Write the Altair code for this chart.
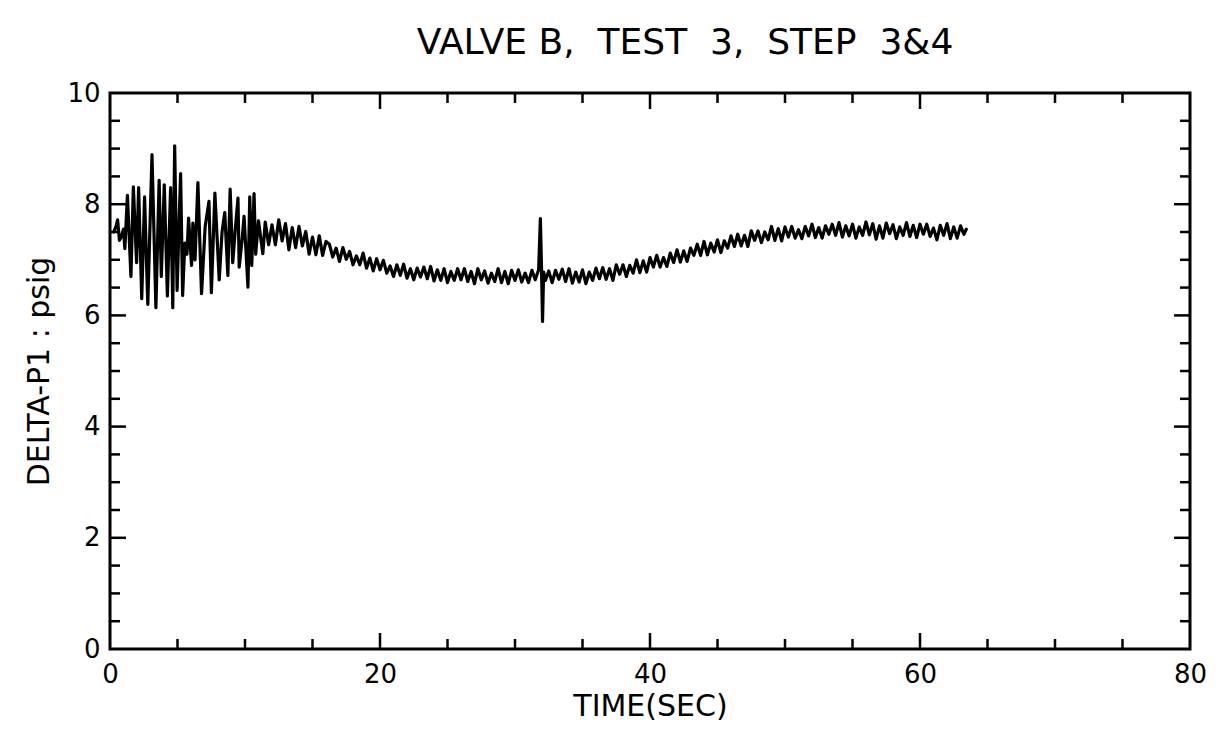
import altair as alt
import pandas as pd

TITLE = "VALVE B,\u00a0 TEST\u00a0 3,\u00a0 STEP\u00a0 3&4"
X_TITLE = "TIME(SEC)"
Y_TITLE = "DELTA-P1 : psig"

x_labels = [0, 20, 40, 60, 80]
y_labels = [0, 2, 4, 6, 8, 10]
x_major_ticks = [20, 40, 60]
x_minor_ticks = [5, 10, 15, 25, 30, 35, 45, 50, 55, 65, 70, 75]
y_major_ticks = [2, 4, 6, 8]
y_minor_ticks = [0.5, 1, 1.5, 2.5, 3, 3.5, 4.5, 5, 5.5, 6.5, 7, 7.5, 8.5, 9, 9.5]

# start-up oscillation burst (time s, delta-P psig)
burst_t = [0.28, 0.46, 0.56, 0.70, 0.83, 1.00, 1.10, 1.29, 1.55, 1.73, 1.97, 2.12,
           2.35, 2.56, 2.80, 3.11, 3.40, 3.64, 3.80, 4.02, 4.25, 4.49, 4.65, 4.79,
           4.97, 5.23, 5.38, 5.54, 5.70, 5.82, 6.04, 6.14, 6.30, 6.51, 6.78, 7.05,
           7.33, 7.51, 7.77, 8.09, 8.30, 8.50, 8.73, 8.90, 9.09, 9.30, 9.48, 9.57,
           9.80, 9.93, 10.22, 10.35, 10.50, 10.67, 10.79, 11.00, 11.32]
burst_v = [7.50, 7.61, 7.72, 7.35, 7.41, 7.55, 7.20, 8.16, 6.70, 8.31, 6.95, 8.30,
           6.30, 8.13, 6.20, 8.89, 6.14, 8.43, 6.70, 8.35, 6.35, 8.30, 6.14, 9.05,
           6.45, 8.55, 6.36, 7.30, 7.10, 7.75, 6.90, 7.66, 7.00, 8.39, 6.39, 7.60,
           8.05, 6.41, 8.20, 6.64, 7.50, 7.85, 6.72, 8.27, 6.95, 7.60, 8.11, 6.87,
           7.40, 7.78, 6.51, 8.13, 6.90, 8.19, 7.10, 7.70, 7.11]

# settling / decay part
decay_t = [11.50, 11.75, 12.00, 12.25, 12.50, 12.75, 13.00, 13.25, 13.50, 13.75,
           14.00, 14.25, 14.50, 14.75, 15.00, 15.25, 15.50, 15.75, 16.00, 16.25,
           16.50, 16.75, 17.00, 17.25, 17.50, 17.75, 18.00, 18.25, 18.50, 18.75,
           19.00, 19.25, 19.50, 19.75, 20.00, 20.25, 20.50, 20.75, 21.00, 21.25,
           21.50, 21.75, 22.00, 22.25, 22.50, 22.75, 23.00, 23.25, 23.50, 23.75,
           24.00, 24.25, 24.50, 24.75, 25.00, 25.25, 25.50, 25.75, 26.00, 26.25,
           26.50, 26.75, 27.00, 27.25, 27.50, 27.75, 28.00, 28.25, 28.50, 28.75,
           29.00, 29.25, 29.50, 29.75, 30.00, 30.25, 30.50, 30.75, 31.00, 31.25,
           31.50, 31.75]
decay_v = [7.68, 7.27, 7.63, 7.27, 7.72, 7.34, 7.65, 7.18, 7.58, 7.22,
           7.60, 7.25, 7.51, 7.10, 7.41, 7.09, 7.43, 7.08, 7.33, 7.28,
           7.05, 7.21, 6.97, 7.22, 7.01, 7.15, 6.91, 7.07, 6.91, 7.12,
           6.85, 7.03, 6.80, 7.02, 6.82, 6.99, 6.76, 6.89, 6.70, 6.91,
           6.72, 6.92, 6.67, 6.84, 6.64, 6.85, 6.69, 6.87, 6.66, 6.88,
           6.62, 6.82, 6.63, 6.84, 6.59, 6.79, 6.63, 6.84, 6.64, 6.84,
           6.61, 6.79, 6.57, 6.84, 6.64, 6.80, 6.58, 6.76, 6.61, 6.84,
           6.59, 6.79, 6.57, 6.81, 6.63, 6.82, 6.60, 6.76, 6.59, 6.81,
           6.64, 6.82]

# valve step transient
spike_t = [31.88, 31.96, 32.04, 32.12]
spike_v = [7.74, 6.90, 5.89, 6.78]

# recovery part
recover_t = [32.25, 32.50, 32.75, 33.00, 33.25, 33.50, 33.75, 34.00, 34.25, 34.50,
             34.75, 35.00, 35.25, 35.50, 35.75, 36.00, 36.25, 36.50, 36.75, 37.00,
             37.25, 37.50, 37.75, 38.00, 38.25, 38.50, 38.75, 39.00, 39.25, 39.50,
             39.75, 40.00, 40.25, 40.50, 40.75, 41.00, 41.25, 41.50, 41.75, 42.00,
             42.25, 42.50, 42.75, 43.00, 43.25, 43.50, 43.75, 44.00, 44.25, 44.50,
             44.75, 45.00, 45.25, 45.50, 45.75, 46.00, 46.25, 46.50, 46.75, 47.00,
             47.25, 47.50, 47.75, 48.00, 48.25, 48.50, 48.75, 49.00, 49.25, 49.50,
             49.75, 50.00, 50.25, 50.50, 50.75, 51.00, 51.25, 51.50, 51.75, 52.00,
             52.25, 52.50, 52.75, 53.00, 53.25, 53.50, 53.75, 54.00, 54.25, 54.50,
             54.75, 55.00, 55.25, 55.50, 55.75, 56.00, 56.25, 56.50, 56.75, 57.00,
             57.25, 57.50, 57.75, 58.00, 58.25, 58.50, 58.75, 59.00, 59.25, 59.50,
             59.75, 60.00, 60.25, 60.50, 60.75, 61.00, 61.25, 61.50, 61.75, 62.00,
             62.25, 62.50, 62.75, 63.00, 63.25, 63.43]
recover_v = [6.63, 6.80, 6.59, 6.81, 6.65, 6.83, 6.61, 6.84, 6.58, 6.78,
             6.60, 6.82, 6.57, 6.78, 6.63, 6.85, 6.66, 6.86, 6.65, 6.84,
             6.63, 6.91, 6.74, 6.91, 6.70, 6.90, 6.76, 7.00, 6.77, 6.98,
             6.78, 7.04, 6.87, 7.08, 6.87, 7.04, 6.88, 7.12, 6.95, 7.18,
             6.96, 7.16, 6.97, 7.21, 7.08, 7.28, 7.08, 7.33, 7.09, 7.30,
             7.14, 7.36, 7.13, 7.34, 7.21, 7.43, 7.24, 7.46, 7.25, 7.44,
             7.24, 7.52, 7.35, 7.52, 7.31, 7.50, 7.36, 7.60, 7.35, 7.56,
             7.34, 7.59, 7.41, 7.60, 7.39, 7.54, 7.38, 7.60, 7.43, 7.64,
             7.40, 7.58, 7.39, 7.61, 7.46, 7.64, 7.44, 7.67, 7.41, 7.61,
             7.43, 7.64, 7.39, 7.59, 7.44, 7.68, 7.45, 7.65, 7.37, 7.61,
             7.39, 7.66, 7.47, 7.63, 7.38, 7.59, 7.44, 7.67, 7.42, 7.62,
             7.40, 7.64, 7.46, 7.64, 7.42, 7.57, 7.36, 7.62, 7.44, 7.65,
             7.38, 7.59, 7.39, 7.61, 7.46, 7.55]

W, H = 1080, 556
FONT = "DejaVu Sans"
MAJOR, MINOR = 16, 10

times = burst_t + decay_t + spike_t + recover_t
values = burst_v + decay_v + spike_v + recover_v
df = pd.DataFrame({"t": times, "v": values, "i": list(range(len(times)))})

xs = alt.Scale(domain=[0, 80], nice=False, zero=False)
ys = alt.Scale(domain=[0, 10], nice=False, zero=False)

x_axis = alt.Axis(
    values=x_labels, title=X_TITLE, ticks=False, domain=False, grid=False,
    labelFontSize=26, titleFontSize=30, labelPadding=12, titlePadding=4,
    labelFont=FONT, titleFont=FONT, titleFontWeight="normal",
    labelColor="black", titleColor="black", labelFlush=False)
y_axis = alt.Axis(
    values=y_labels, title=Y_TITLE, ticks=False, domain=False, grid=False,
    labelFontSize=26, titleFontSize=30, labelPadding=10, titlePadding=12,
    labelFont=FONT, titleFont=FONT, titleFontWeight="normal",
    labelColor="black", titleColor="black", labelFlush=False)

line = alt.Chart(df).mark_line(color="black", strokeWidth=3.2, strokeJoin="round",
                               strokeCap="round").encode(
    x=alt.X("t:Q", scale=xs, axis=x_axis),
    y=alt.Y("v:Q", scale=ys, axis=y_axis),
    order="i:Q",
)

def xticks(vals, length, top):
    d = pd.DataFrame({"t": vals})
    if top:
        yy, yy2 = alt.value(0), alt.value(length)
    else:
        yy, yy2 = alt.value(H), alt.value(H - length)
    return alt.Chart(d).mark_rule(color="black", strokeWidth=2.5).encode(
        x=alt.X("t:Q", scale=xs, axis=x_axis), y=yy, y2=yy2)

def yticks(vals, length, right):
    d = pd.DataFrame({"v": vals})
    if right:
        xx, xx2 = alt.value(W), alt.value(W - length)
    else:
        xx, xx2 = alt.value(0), alt.value(length)
    return alt.Chart(d).mark_rule(color="black", strokeWidth=2.5).encode(
        y=alt.Y("v:Q", scale=ys, axis=y_axis), x=xx, x2=xx2)

layers = [line]
for top in (False, True):
    layers.append(xticks(x_major_ticks, MAJOR, top))
    layers.append(xticks(x_minor_ticks, MINOR, top))
for right in (False, True):
    layers.append(yticks(y_major_ticks, MAJOR, right))
    layers.append(yticks(y_minor_ticks, MINOR, right))

chart = alt.layer(*layers).properties(
    width=W, height=H,
    title=alt.TitleParams(TITLE, fontSize=36, font=FONT, fontWeight="normal",
                          color="black", dx=35, offset=18),
    autosize=alt.AutoSizeParams(type="none"),
    padding={"left": 102, "top": 85, "right": 20, "bottom": 80},
).configure(
    background="white",
    view=alt.ViewConfig(stroke="black", strokeWidth=3),
)

chart.save("out.html", embed_options={"renderer": "svg", "actions": False})
